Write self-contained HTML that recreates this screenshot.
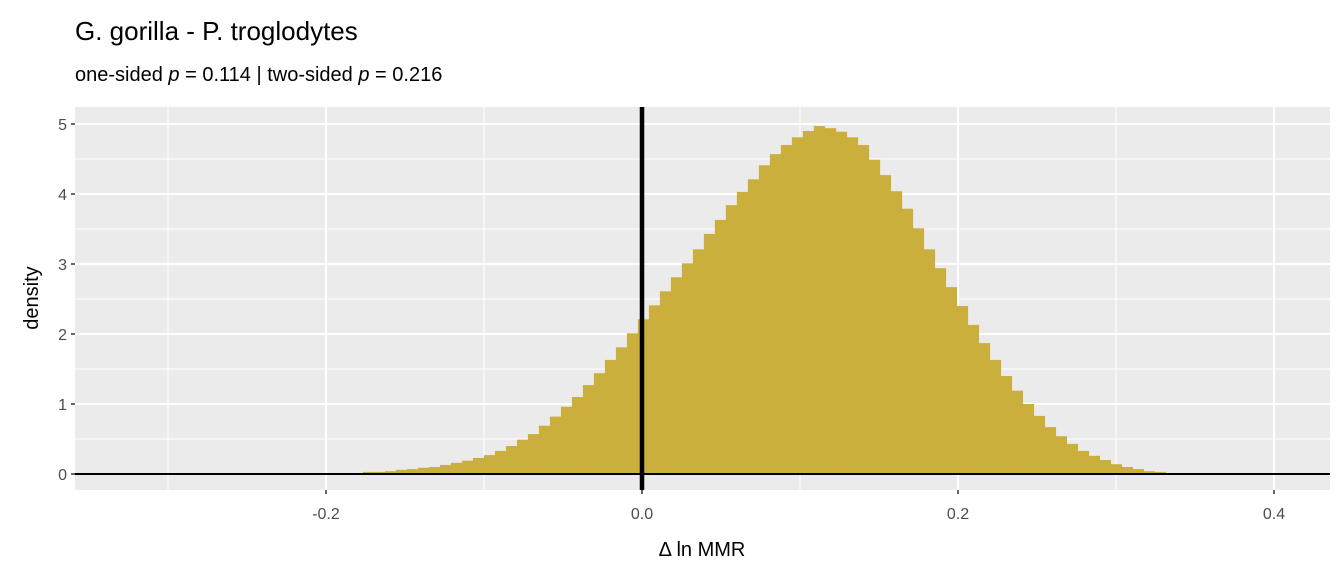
<!DOCTYPE html>
<html><head><meta charset="utf-8"><style>
body{margin:0;background:#fff;}
svg{display:block;font-family:"Liberation Sans",Arial,sans-serif;}
</style></head><body>
<svg id="chart" width="1344" height="576">
<text x="75" y="40" font-size="26" fill="#000">G. gorilla - P. troglodytes</text>
<text x="75" y="81" font-size="20" fill="#000">one-sided <tspan font-style="italic">p</tspan> = 0.114 | two-sided <tspan font-style="italic">p</tspan> = 0.216</text>
<rect x="75" y="107" width="1255" height="383" fill="#ebebeb"/>
<g id="grid"></g>
<g id="bars"></g>
<g id="axes"></g>
<text x="702" y="556" font-size="20" text-anchor="middle" fill="#000">Δ ln MMR</text>
<text transform="translate(38,298) rotate(-90)" font-size="20" text-anchor="middle" fill="#000">density</text>
</svg>
<script>
const binStart = -0.1766;
const binWidth = 0.00696;
const densities = [0.03,0.03,0.04,0.06,0.07,0.09,0.10,0.13,0.16,0.19,0.23,0.27,0.33,0.40,0.49,0.57,0.69,0.82,0.96,1.10,1.27,1.44,1.63,1.81,2.01,2.21,
2.41,2.61,2.81,3.01,3.21,3.43,3.63,3.84,4.03,4.21,4.41,4.57,4.70,4.81,4.90,4.97,4.94,4.89,4.81,4.70,4.49,4.27,4.04,3.79,3.51,3.21,2.94,2.67,
2.40,2.13,1.87,1.63,1.40,1.19,1.00,0.83,0.67,0.54,0.43,0.33,0.26,0.20,0.14,0.10,0.07,0.04,0.03];
const xTicks = [-0.2,0.0,0.2,0.4];
const xTickLabels = ["-0.2","0.0","0.2","0.4"];
const xMinor = [-0.3,-0.1,0.1,0.3];
const yTicks = [0,1,2,3,4,5];
const yMinor = [0.5,1.5,2.5,3.5,4.5];
const refX = 0;

const X = v => 642 + v*1580;
const Y = v => 474 - v*70;
const NS = "http://www.w3.org/2000/svg";
function mk(tag, attrs, parent){const e=document.createElementNS(NS,tag);for(const k in attrs)e.setAttribute(k,attrs[k]);parent.appendChild(e);return e;}
const grid=document.getElementById('grid'), bars=document.getElementById('bars'), axes=document.getElementById('axes');
const L=75,R=1330,T=107,B=490;
yMinor.forEach(v=>{const l=mk('line',{x1:L,x2:R,y1:Y(v),y2:Y(v),stroke:'#fff','stroke-width':1},grid);

});
xMinor.forEach(v=>{const l=mk('line',{x1:X(v),x2:X(v),y1:T,y2:B,stroke:'#fff','stroke-width':1},grid);

});
yTicks.forEach(v=>{const l=mk('line',{x1:L,x2:R,y1:Y(v),y2:Y(v),stroke:'#fff','stroke-width':2},grid);


const t=mk('line',{x1:L-4,x2:L,y1:Y(v),y2:Y(v),stroke:'#333','stroke-width':1.5},axes);


const tx=mk('text',{x:L-8,y:Y(v)+6,'font-size':16,'text-anchor':'end',fill:'#4d4d4d'},axes);tx.textContent=String(v);

});
xTicks.forEach((v,i)=>{const l=mk('line',{x1:X(v),x2:X(v),y1:T,y2:B,stroke:'#fff','stroke-width':2},grid);


const t=mk('line',{x1:X(v),x2:X(v),y1:B,y2:B+4,stroke:'#333','stroke-width':1.5},axes);


const tx=mk('text',{x:X(v),y:B+29,'font-size':16,'text-anchor':'middle',fill:'#4d4d4d'},axes);tx.textContent=xTickLabels[i];

});
densities.forEach((d,i)=>{const x0=X(binStart+i*binWidth),x1=X(binStart+(i+1)*binWidth);
const r=mk('rect',{x:x0,y:Y(d),width:x1-x0+0.3,height:Y(0)-Y(d),fill:'#cbaf3d'},bars);

});
const h=mk('line',{x1:L,x2:R,y1:Y(0),y2:Y(0),stroke:'#000','stroke-width':2},axes);


const v=mk('line',{x1:X(refX),x2:X(refX),y1:T,y2:B,stroke:'#000','stroke-width':4.5},axes);


</script>
</body></html>
